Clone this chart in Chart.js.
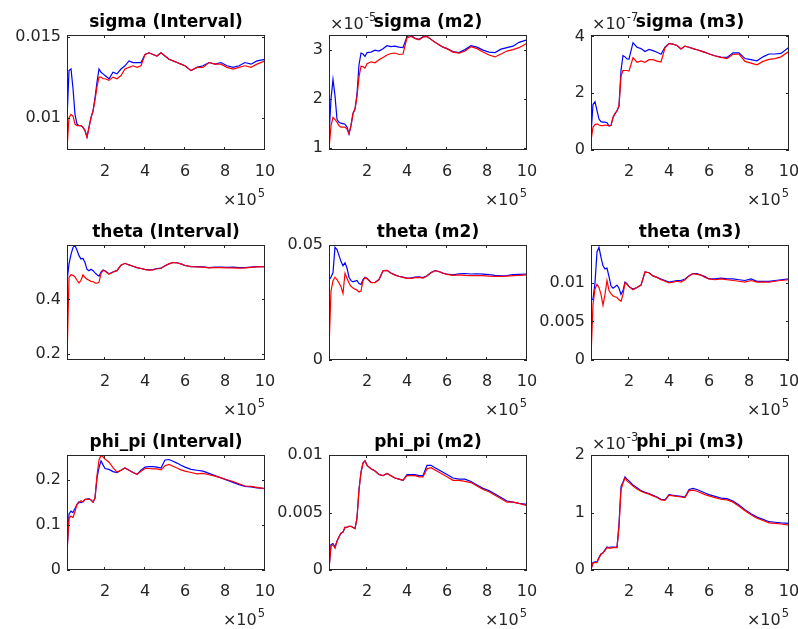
<!DOCTYPE html>
<html><head><meta charset="utf-8">
<script src="https://cdn.jsdelivr.net/npm/chart.js@4/dist/chart.umd.min.js"></script>
<style>
html,body{margin:0;padding:0;background:#fff;width:798px;height:629px;overflow:hidden;position:relative}
canvas{position:absolute}
</style></head><body>
<script>
// sample positions (x 10^5)
const xSamples = [0.1,0.2,0.3,0.4,0.5,0.6,0.7,0.8,0.9,1.0,
  1.1,1.2,1.3,1.4,1.5,1.6,1.7,1.8,1.9,2.0,
  2.2,2.4,2.6,2.8,3.0,3.2,3.4,3.6,3.8,4.0,
  4.2,4.4,4.6,4.8,5.0,5.2,5.4,5.6,5.8,6.0,
  6.3,6.6,6.9,7.2,7.5,7.8,8.1,8.4,8.7,9.0,
  9.3,9.6,10.0];
const xTicks = [2,4,6,8,10];
const titles = ['sigma (Interval)','sigma (m2)','sigma (m3)','theta (Interval)','theta (m2)','theta (m3)','phi_pi (Interval)','phi_pi (m2)','phi_pi (m3)'];

const sigmaIntervalBlue = [0.0099,0.0129,0.0130,0.0118,0.0102,0.0096,0.0095,0.0095,0.0094,0.0092,
  0.0088,0.0094,0.0100,0.0104,0.0112,0.0122,0.0130,0.0128,0.0127,0.0126,
  0.0124,0.0128,0.0127,0.0130,0.0132,0.0135,0.0134,0.0134,0.0134,0.0139,
  0.0140,0.0139,0.0138,0.0140,0.0138,0.0136,0.0135,0.0134,0.0133,0.0132,
  0.0129,0.0131,0.0132,0.0134,0.0133,0.0134,0.0132,0.0131,0.0132,0.0134,
  0.0133,0.0135,0.0136];
const sigmaIntervalRed = [0.0081,0.0100,0.0102,0.0101,0.0096,0.0095,0.0095,0.0095,0.0094,0.0092,
  0.0088,0.0094,0.0100,0.0104,0.0111,0.0119,0.0125,0.0125,0.0124,0.0124,
  0.0123,0.0125,0.0124,0.0126,0.0130,0.0131,0.0132,0.0131,0.0132,0.0139,
  0.0140,0.0139,0.0138,0.0140,0.0138,0.0136,0.0135,0.0134,0.0133,0.0132,
  0.0129,0.0131,0.0131,0.0134,0.0133,0.0133,0.0131,0.0130,0.0131,0.0132,
  0.0131,0.0133,0.0135];
const sigmaM2Blue = [1.24,2.00,2.40,2.06,1.58,1.52,1.50,1.49,1.48,1.42,
  1.28,1.45,1.70,1.79,2.10,2.70,2.94,2.92,2.87,2.95,
  2.96,3.00,2.98,3.03,3.09,3.07,3.08,3.06,3.05,3.28,
  3.31,3.24,3.22,3.27,3.28,3.22,3.16,3.11,3.06,3.03,
  2.97,2.95,3.01,3.09,3.06,3.00,2.96,2.95,3.02,3.05,
  3.08,3.16,3.21];
const sigmaM2Red = [0.96,1.45,1.62,1.58,1.52,1.45,1.42,1.42,1.42,1.38,
  1.28,1.45,1.70,1.79,2.05,2.45,2.67,2.66,2.63,2.72,
  2.76,2.74,2.80,2.85,2.90,2.93,2.94,2.91,2.92,3.25,
  3.28,3.24,3.21,3.27,3.28,3.22,3.16,3.11,3.06,3.03,
  2.96,2.94,2.98,3.07,3.03,2.96,2.90,2.86,2.92,2.98,
  3.01,3.05,3.14];
const sigmaM3Blue = [0.56,1.60,1.70,1.39,1.09,1.00,0.98,0.98,0.96,0.85,
  0.86,1.15,1.28,1.38,1.55,2.80,3.33,3.28,3.21,3.20,
  3.78,3.62,3.57,3.47,3.54,3.50,3.44,3.37,3.62,3.75,
  3.73,3.68,3.56,3.66,3.62,3.57,3.53,3.49,3.44,3.39,
  3.32,3.27,3.26,3.42,3.42,3.22,3.18,3.14,3.28,3.38,
  3.38,3.40,3.62];
const sigmaM3Red = [0.33,0.80,0.90,0.92,0.88,0.86,0.86,0.88,0.87,0.85,
  0.86,1.15,1.28,1.38,1.55,2.60,2.80,2.80,2.80,2.78,
  3.25,3.09,3.14,3.09,3.18,3.18,3.13,3.10,3.60,3.75,
  3.73,3.68,3.56,3.66,3.62,3.57,3.53,3.48,3.44,3.38,
  3.31,3.26,3.22,3.37,3.38,3.12,3.06,3.00,3.12,3.19,
  3.22,3.28,3.48];
const thetaIntervalBlue = [0.465,0.530,0.565,0.590,0.598,0.580,0.560,0.548,0.550,0.535,
  0.510,0.505,0.510,0.505,0.497,0.490,0.485,0.500,0.508,0.505,
  0.494,0.500,0.506,0.525,0.532,0.526,0.521,0.516,0.513,0.510,
  0.508,0.509,0.513,0.514,0.523,0.530,0.535,0.534,0.530,0.524,
  0.520,0.520,0.519,0.516,0.518,0.518,0.517,0.518,0.516,0.516,
  0.518,0.520,0.520];
const thetaIntervalRed = [0.178,0.480,0.490,0.488,0.482,0.470,0.460,0.470,0.490,0.480,
  0.474,0.470,0.466,0.465,0.460,0.459,0.462,0.495,0.506,0.504,
  0.492,0.500,0.505,0.525,0.532,0.526,0.521,0.516,0.513,0.509,
  0.507,0.508,0.512,0.513,0.523,0.530,0.535,0.533,0.530,0.524,
  0.520,0.519,0.518,0.515,0.516,0.516,0.515,0.515,0.514,0.515,
  0.517,0.519,0.520];
const thetaM2Blue = [0.0348,0.0360,0.0380,0.0490,0.0480,0.0455,0.0428,0.0410,0.0423,0.0400,
  0.0360,0.0345,0.0340,0.0343,0.0346,0.0332,0.0328,0.0350,0.0360,0.0355,
  0.0338,0.0337,0.0350,0.0388,0.0390,0.0378,0.0370,0.0364,0.0360,0.0356,
  0.0356,0.0360,0.0361,0.0358,0.0366,0.0380,0.0389,0.0385,0.0378,0.0373,
  0.0370,0.0375,0.0376,0.0374,0.0375,0.0373,0.0371,0.0368,0.0366,0.0367,
  0.0371,0.0372,0.0374];
const thetaM2Red = [0.0051,0.0300,0.0345,0.0360,0.0350,0.0335,0.0319,0.0290,0.0377,0.0355,
  0.0335,0.0320,0.0313,0.0308,0.0304,0.0296,0.0300,0.0345,0.0358,0.0353,
  0.0336,0.0336,0.0350,0.0388,0.0390,0.0377,0.0369,0.0363,0.0359,0.0355,
  0.0355,0.0358,0.0359,0.0356,0.0365,0.0379,0.0388,0.0384,0.0377,0.0372,
  0.0368,0.0370,0.0368,0.0367,0.0367,0.0367,0.0365,0.0364,0.0364,0.0365,
  0.0367,0.0368,0.0370];
const thetaM3Blue = [0.0077,0.0079,0.0100,0.0140,0.0146,0.0133,0.0122,0.0118,0.0119,0.0108,
  0.0096,0.0093,0.0095,0.0097,0.0093,0.0085,0.0090,0.0101,0.0099,0.0095,
  0.0092,0.0094,0.0097,0.0114,0.0113,0.0109,0.0107,0.0105,0.0103,0.0101,
  0.0102,0.0103,0.0103,0.0105,0.0109,0.0112,0.0112,0.0110,0.0108,0.0105,
  0.0105,0.0106,0.0105,0.0105,0.0104,0.0103,0.0105,0.0102,0.0102,0.0102,
  0.0103,0.0104,0.0105];
const thetaM3Red = [0.0004,0.0072,0.0092,0.0098,0.0094,0.0085,0.0071,0.0085,0.0103,0.0090,
  0.0086,0.0083,0.0082,0.0081,0.0078,0.0076,0.0085,0.0100,0.0098,0.0095,
  0.0091,0.0094,0.0097,0.0114,0.0113,0.0109,0.0107,0.0104,0.0102,0.0100,
  0.0101,0.0102,0.0101,0.0104,0.0109,0.0112,0.0111,0.0110,0.0107,0.0105,
  0.0104,0.0105,0.0104,0.0103,0.0102,0.0101,0.0103,0.0101,0.0101,0.0101,
  0.0102,0.0103,0.0104];
const phiIntervalBlue = [0.036,0.125,0.131,0.128,0.137,0.146,0.152,0.150,0.152,0.157,
  0.158,0.159,0.156,0.151,0.160,0.205,0.228,0.243,0.234,0.226,
  0.224,0.219,0.217,0.222,0.227,0.222,0.217,0.213,0.222,0.229,
  0.230,0.230,0.229,0.227,0.245,0.246,0.242,0.238,0.233,0.229,
  0.224,0.222,0.220,0.215,0.210,0.205,0.200,0.195,0.190,0.186,
  0.185,0.183,0.181];
const phiIntervalRed = [0.042,0.115,0.120,0.117,0.130,0.146,0.150,0.154,0.152,0.157,
  0.157,0.158,0.156,0.151,0.160,0.210,0.245,0.255,0.252,0.247,
  0.240,0.228,0.218,0.222,0.227,0.222,0.217,0.213,0.220,0.226,
  0.226,0.225,0.225,0.223,0.232,0.235,0.231,0.227,0.223,0.220,
  0.217,0.214,0.215,0.212,0.209,0.205,0.201,0.197,0.192,0.187,
  0.186,0.184,0.181];
const phiM2Blue = [0.0001,0.0022,0.0023,0.0020,0.0025,0.0029,0.0032,0.0033,0.0037,0.0037,
  0.0038,0.0038,0.0037,0.0036,0.0045,0.0070,0.0085,0.0093,0.0095,0.0091,
  0.0088,0.0086,0.0083,0.0082,0.0084,0.0082,0.0080,0.0079,0.0078,0.0083,
  0.0083,0.0083,0.0082,0.0082,0.0091,0.0091,0.0089,0.0087,0.0085,0.0083,
  0.0080,0.0079,0.0079,0.0077,0.0074,0.0071,0.0069,0.0066,0.0063,0.0060,
  0.0059,0.0058,0.0057];
const phiM2Red = [0.0001,0.0021,0.0022,0.0019,0.0025,0.0029,0.0032,0.0033,0.0037,0.0037,
  0.0038,0.0038,0.0037,0.0036,0.0045,0.0070,0.0085,0.0093,0.0095,0.0091,
  0.0088,0.0086,0.0083,0.0082,0.0084,0.0082,0.0080,0.0079,0.0078,0.0082,
  0.0082,0.0082,0.0081,0.0081,0.0088,0.0089,0.0087,0.0085,0.0083,0.0081,
  0.0078,0.0078,0.0077,0.0076,0.0073,0.0070,0.0068,0.0065,0.0062,0.0059,
  0.0059,0.0058,0.0056];
const phiM3Blue = [0.01,0.13,0.14,0.14,0.22,0.28,0.30,0.35,0.40,0.39,
  0.40,0.40,0.40,0.39,0.80,1.45,1.53,1.62,1.58,1.55,
  1.48,1.43,1.38,1.35,1.33,1.30,1.27,1.23,1.22,1.31,
  1.30,1.29,1.28,1.27,1.40,1.42,1.40,1.37,1.34,1.31,
  1.28,1.25,1.24,1.20,1.13,1.05,0.98,0.92,0.88,0.84,
  0.83,0.82,0.81];
const phiM3Red = [0.01,0.12,0.13,0.13,0.21,0.27,0.30,0.34,0.39,0.38,
  0.38,0.39,0.39,0.39,0.75,1.40,1.51,1.60,1.55,1.52,
  1.46,1.41,1.37,1.34,1.32,1.29,1.26,1.22,1.21,1.30,
  1.29,1.28,1.27,1.26,1.38,1.39,1.37,1.34,1.31,1.29,
  1.26,1.23,1.22,1.18,1.11,1.03,0.96,0.90,0.86,0.82,
  0.81,0.80,0.78];

// y tick values per panel
const yTicksSigmaInterval = [0.01, 0.015];
const yTicksSigmaM2 = [1, 2, 3];
const yTicksSigmaM3 = [0, 2, 4];
const yTicksThetaInterval = [0.2, 0.4];
const yTicksThetaM2 = [0, 0.05];
const yTicksThetaM3 = [0, 0.005, 0.01];
const yTicksPhiInterval = [0, 0.1, 0.2];
const yTicksPhiM2 = [0, 0.005, 0.01];
const yTicksPhiM3 = [0, 1, 2];
// y axis limits per panel
const yLimits = [[0.0080,0.0151],[0.95,3.31],[0,4.05],[0.178,0.599],[0,0.05],[0,0.0149],[0,0.256],[0,0.01],[0,2]];
const yExponents = [null,'-5','-7',null,null,null,null,null,'-3'];
const xExponent = '5';

const panels = [
  [sigmaIntervalBlue, sigmaIntervalRed, yTicksSigmaInterval],
  [sigmaM2Blue, sigmaM2Red, yTicksSigmaM2],
  [sigmaM3Blue, sigmaM3Red, yTicksSigmaM3],
  [thetaIntervalBlue, thetaIntervalRed, yTicksThetaInterval],
  [thetaM2Blue, thetaM2Red, yTicksThetaM2],
  [thetaM3Blue, thetaM3Red, yTicksThetaM3],
  [phiIntervalBlue, phiIntervalRed, yTicksPhiInterval],
  [phiM2Blue, phiM2Red, yTicksPhiM2],
  [phiM3Blue, phiM3Red, yTicksPhiM3]
];

const COL_LEFT = [67, 329, 591], ROW_TOP = [35, 245, 455];
const AREA_W = 198, AREA_H = 115, Y_W = 62, X_H = 30, PAD_R = 10, CAN_H = 209;
const AX = '#262626';
const FONT = '"DejaVu Sans", sans-serif';

function drawExp(ctx, exp, x, y, align) {
  ctx.font = '16px ' + FONT;
  const bw = ctx.measureText('\u00d710').width;
  ctx.font = '11.5px ' + FONT;
  const ew = ctx.measureText(exp).width;
  const x0 = align === 'right' ? x - bw - ew - 1 : x;
  ctx.textAlign = 'left';
  ctx.textBaseline = 'alphabetic';
  ctx.fillStyle = AX;
  ctx.font = '16px ' + FONT;
  ctx.fillText('\u00d710', x0, y);
  ctx.font = '11.5px ' + FONT;
  ctx.fillText(exp, x0 + bw + 1, y - 8);
}

const matlabPlugin = {
  id: 'matlabAxes',
  afterDraw(chart, args, opts) {
    const {ctx, chartArea: a} = chart;
    const xs = chart.scales.x, ys = chart.scales.y;
    ctx.save();
    ctx.strokeStyle = AX;
    ctx.lineWidth = 1;
    ctx.beginPath();
    const TL = 3;
    xs.ticks.forEach(t => {
      const p = Math.round(xs.getPixelForValue(t.value)) - 0.5;
      ctx.moveTo(p, a.bottom); ctx.lineTo(p, a.bottom - TL);
      ctx.moveTo(p, a.top); ctx.lineTo(p, a.top + TL);
    });
    ys.ticks.forEach(t => {
      const p = Math.round(ys.getPixelForValue(t.value)) + 0.5;
      ctx.moveTo(a.left, p); ctx.lineTo(a.left + TL, p);
      ctx.moveTo(a.right, p); ctx.lineTo(a.right - TL, p);
    });
    ctx.stroke();
    ctx.strokeRect(a.left + 0.5, a.top + 0.5, a.right - a.left - 1, a.bottom - a.top - 1);
    drawExp(ctx, xExponent, a.right, a.bottom + 55, 'right');
    if (opts.yExp) drawExp(ctx, opts.yExp, a.left + 1, a.top - 6, 'left');
    ctx.fillStyle = '#000';
    ctx.font = 'bold 17px ' + FONT;
    ctx.textAlign = 'center';
    ctx.textBaseline = 'alphabetic';
    ctx.fillText(opts.title, (a.left + a.right) / 2, a.top - 8);
    ctx.restore();
  }
};

function zeroPad(s) { s.paddingLeft = 0; s.paddingRight = 0; s.paddingTop = 0; s.paddingBottom = 0; }

panels.forEach((p, i) => {
  const r = Math.floor(i / 3), c = i % 3;
  const cv = document.createElement('canvas');
  const W = Y_W + AREA_W + PAD_R;
  cv.width = W; cv.height = CAN_H;
  cv.style.width = W + 'px'; cv.style.height = CAN_H + 'px';
  cv.style.left = (COL_LEFT[c] - Y_W) + 'px';
  cv.style.top = (ROW_TOP[r] - 35) + 'px';
  document.body.appendChild(cv);
  const [blue, red, yt] = p;
  new Chart(cv, {
    type: 'line',
    data: {
      datasets: [
        {data: xSamples.map((x, k) => ({x, y: blue[k]})), borderColor: '#0000ff', borderWidth: 1.2, order: 1},
        {data: xSamples.map((x, k) => ({x, y: red[k]})), borderColor: '#ff0000', borderWidth: 1.2, order: 0}
      ]
    },
    options: {
      responsive: false, animation: false, devicePixelRatio: 1,
      layout: {padding: {left: 0, top: 35, right: PAD_R, bottom: CAN_H - 35 - AREA_H - X_H}},
      elements: {point: {radius: 0}, line: {tension: 0, fill: false}},
      plugins: {legend: {display: false}, tooltip: {enabled: false}, title: {display: false},
        matlabAxes: {title: titles[i], yExp: yExponents[i]}},
      scales: {
        x: {
          type: 'linear', min: 0.1, max: 10,
          grid: {display: false, drawTicks: false}, border: {display: false},
          ticks: {autoSkip: false, maxRotation: 0, padding: 12, color: AX, font: {family: FONT, size: 16},
            callback: v => String(v)},
          afterBuildTicks: s => { s.ticks = xTicks.map(v => ({value: v})); },
          afterFit: s => { s.height = X_H; zeroPad(s); }
        },
        y: {
          type: 'linear', min: yLimits[i][0], max: yLimits[i][1],
          grid: {display: false, drawTicks: false}, border: {display: false},
          ticks: {autoSkip: false, padding: 6, color: AX, font: {family: FONT, size: 16},
            callback: v => String(v)},
          afterBuildTicks: s => { s.ticks = yt.map(v => ({value: v})); },
          afterFit: s => { s.width = Y_W; zeroPad(s); }
        }
      }
    },
    plugins: [matlabPlugin]
  });
});
</script>
</body></html>
